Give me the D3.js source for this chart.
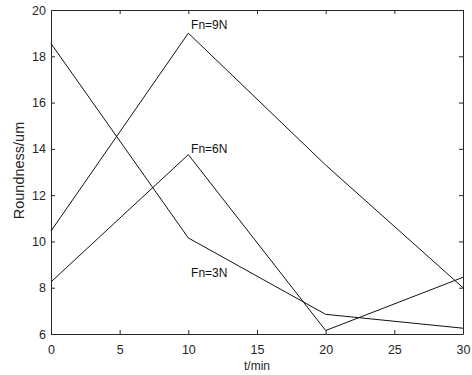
<!DOCTYPE html>
<meta charset="utf-8">
<script src="https://d3js.org/d3.v7.min.js"></script>
<style>
body { margin: 0; background: #fff; }
text { font-family: "Liberation Sans", Arial, sans-serif; }
</style>
<div id="chart"></div>
<script>
// data
var times = [0, 10, 20, 30];
var fn9 = [10.45, 19.0, 13.3, 8.0];
var fn6 = [8.25, 13.75, 6.15, 8.45];
var fn3 = [18.55, 10.15, 6.85, 6.25];
var seriesNames = ["Fn=9N", "Fn=6N", "Fn=3N"];
var labelY = [19.2, 13.8, 8.45];
var xTicks = [0, 5, 10, 15, 20, 25, 30];
var yTicks = [6, 8, 10, 12, 14, 16, 18, 20];

var margin = {top: 10, right: 9, bottom: 41, left: 51},
    width = 472 - margin.left - margin.right,
    height = 375 - margin.top - margin.bottom;

var svg = d3.select("#chart").append("svg")
    .attr("width", 472).attr("height", 375)
  .append("g")
    .attr("transform", "translate(" + margin.left + "," + margin.top + ")");

var x = d3.scaleLinear().domain([0, 30]).range([0, width]);
var y = d3.scaleLinear().domain([6, 20]).range([height, 0]);

// axes, ticks pointing inward, mirrored on top/right
svg.append("g").attr("transform", "translate(0," + height + ")")
  .call(d3.axisBottom(x).tickValues(xTicks).tickSizeInner(-4).tickSizeOuter(0).tickPadding(11));
svg.append("g")
  .call(d3.axisTop(x).tickValues(xTicks).tickSizeInner(-4).tickSizeOuter(0).tickFormat(""));
svg.append("g")
  .call(d3.axisLeft(y).tickValues(yTicks).tickSizeInner(-4).tickSizeOuter(0).tickPadding(5));
svg.append("g").attr("transform", "translate(" + width + ",0)")
  .call(d3.axisRight(y).tickValues(yTicks).tickSizeInner(-4).tickSizeOuter(0).tickFormat(""));

svg.selectAll(".tick text").style("font-size", "12.5px").attr("fill", "#262626");
svg.selectAll(".domain, .tick line").attr("stroke", "#262626");

var line = d3.line()
  .x(function(d, i) { return x(times[i]); })
  .y(function(d) { return y(d); });

[fn9, fn6, fn3].forEach(function(s) {
  svg.append("path")
    .datum(s)
    .attr("fill", "none")
    .attr("stroke", "#111")
    .attr("stroke-width", 1)
    .attr("d", line);
});

// series labels
seriesNames.forEach(function(n, i) {
  svg.append("text")
    .attr("x", x(10.2))
    .attr("y", y(labelY[i]))
    .style("font-size", "12px")
    .attr("fill", "#111")
    .text(n);
});

svg.append("text")
  .attr("x", width / 2)
  .attr("y", height + 36)
  .attr("text-anchor", "middle")
  .style("font-size", "12px")
  .attr("fill", "#262626")
  .text("t/min");

svg.append("text")
  .attr("transform", "rotate(-90)")
  .attr("x", -160.5)
  .attr("y", -27)
  .attr("text-anchor", "middle")
  .style("font-size", "14.5px")
  .attr("fill", "#262626")
  .text("Roundness/um");
</script>
